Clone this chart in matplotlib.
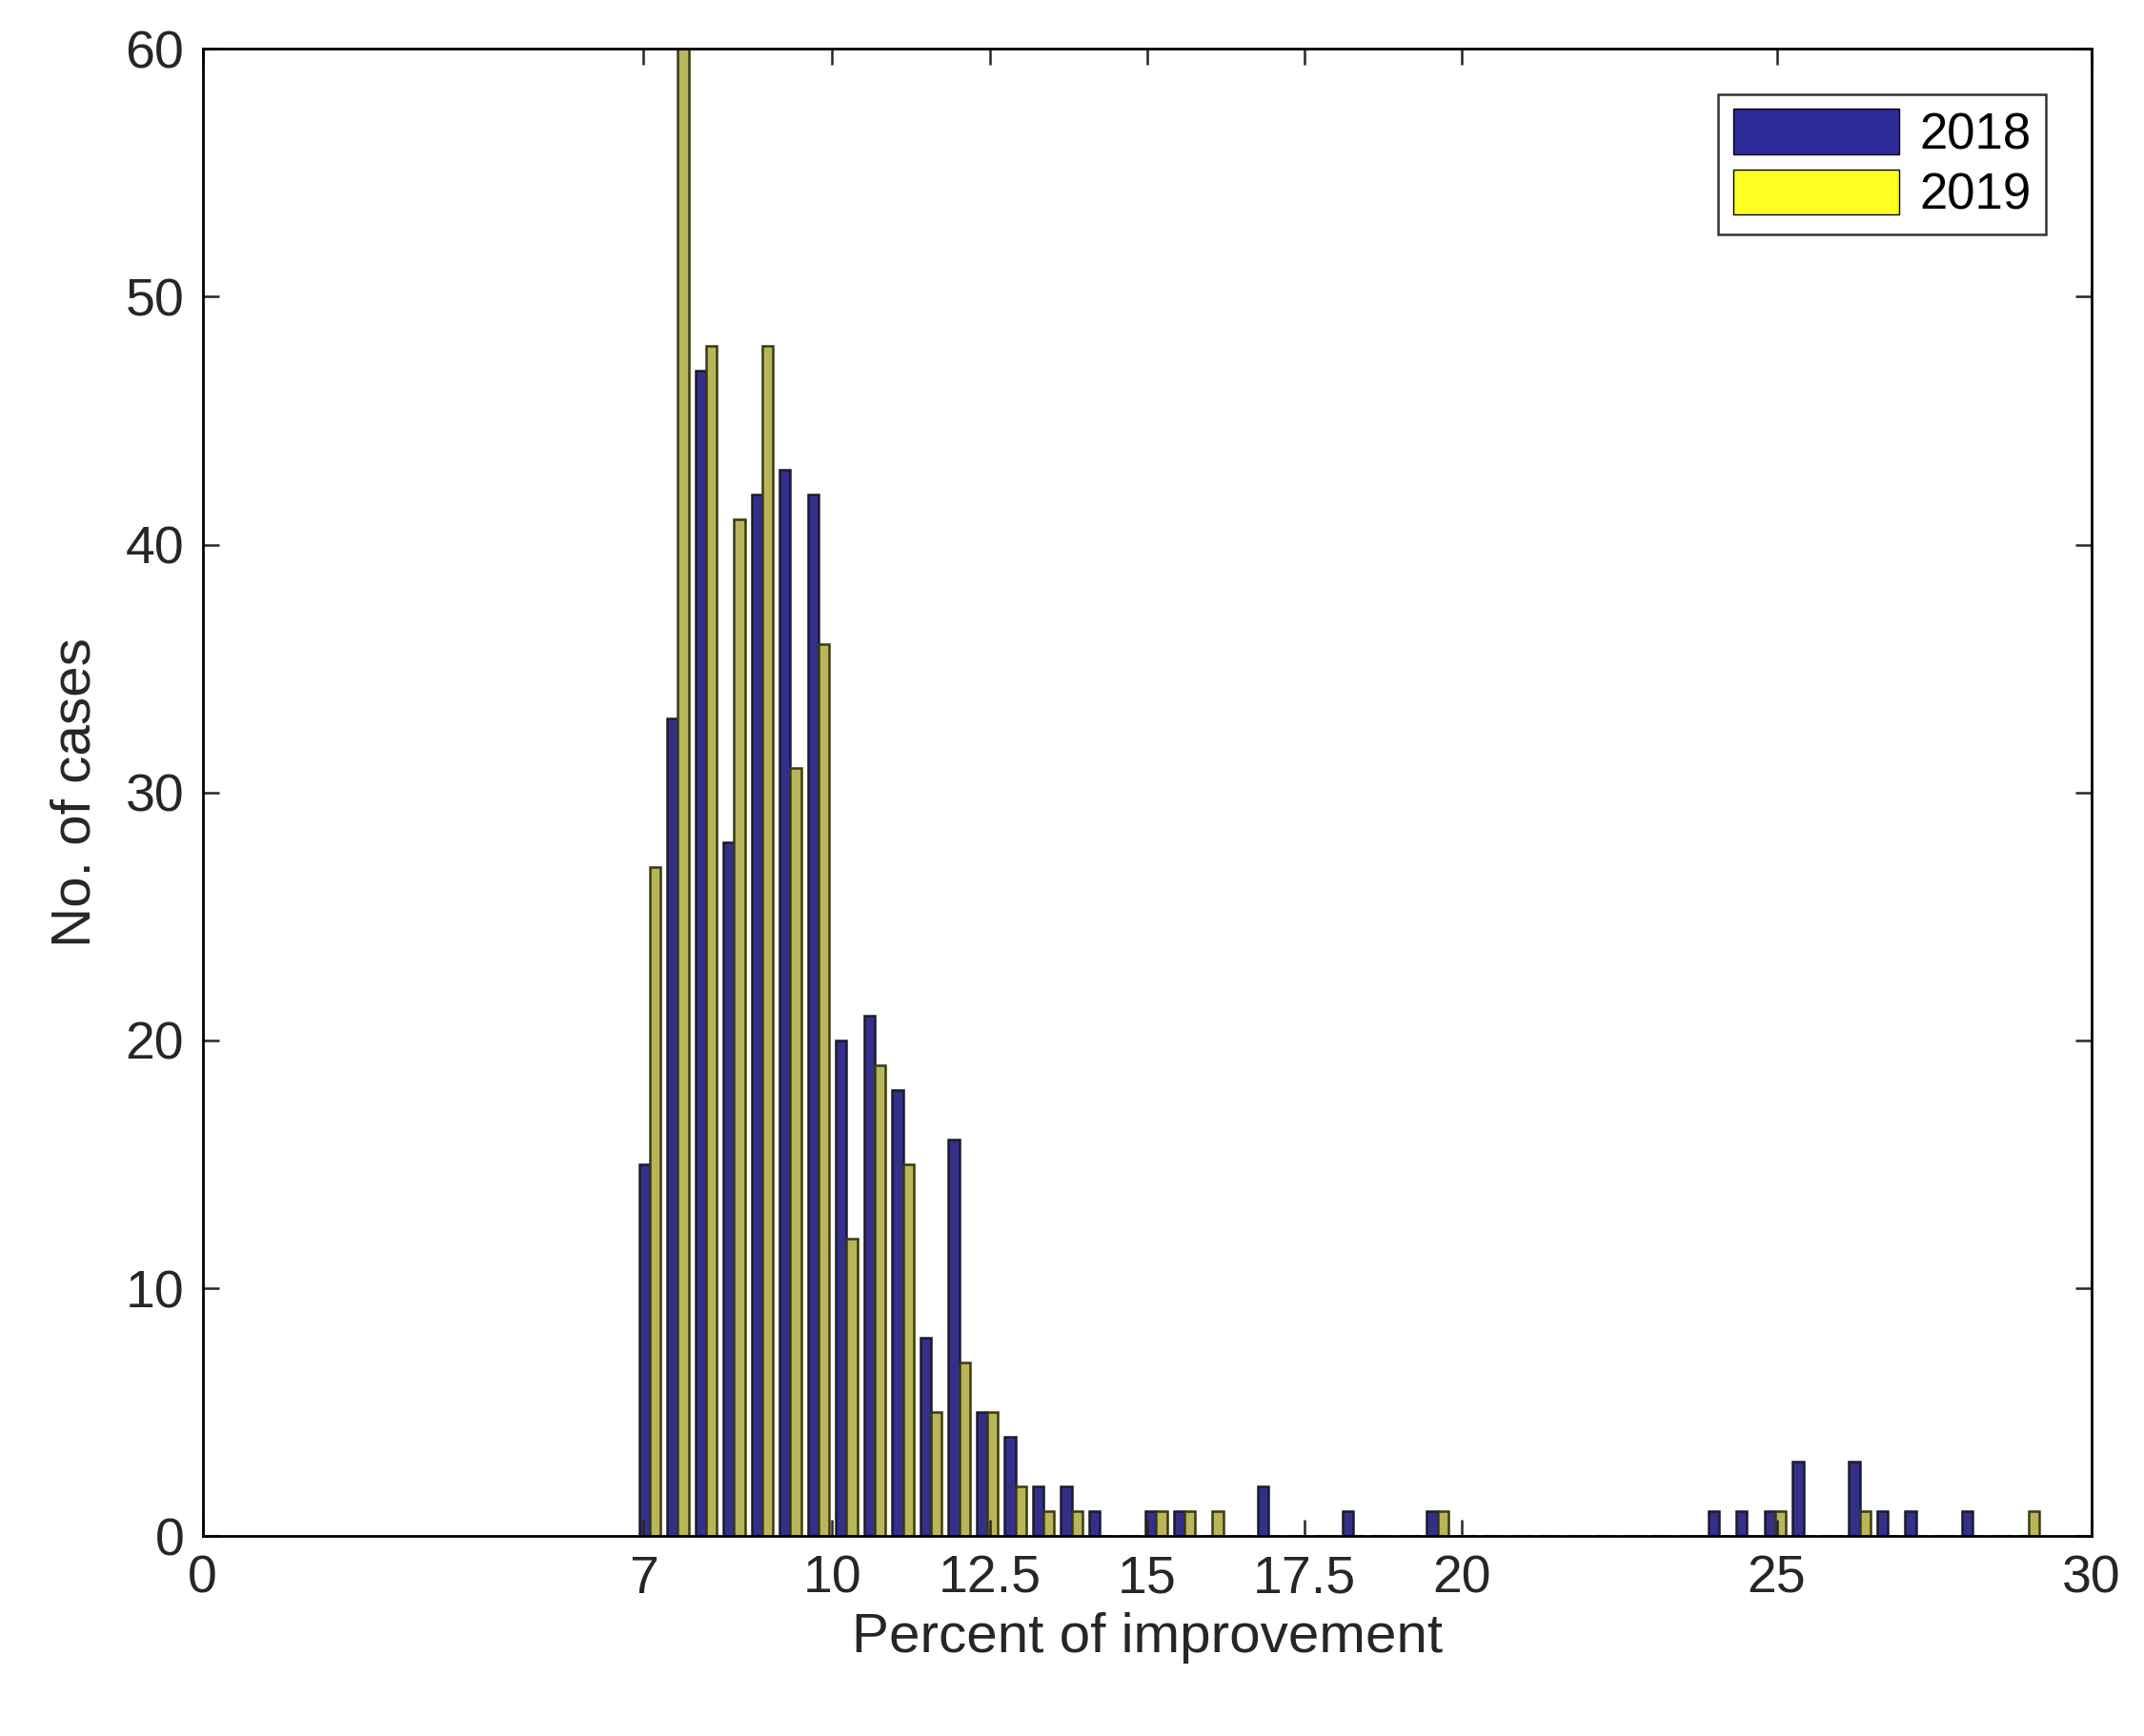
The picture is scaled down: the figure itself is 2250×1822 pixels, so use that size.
import matplotlib.pyplot as plt
from matplotlib.patches import Patch
import numpy as np

plt.rcParams['font.family'] = ['Liberation Sans', 'DejaVu Sans']

# bin centres: 50 bins from 7.1 to 29.0
n_bins = 50
bin_first, bin_last = 7.1, 29.0
counts_2018 = [15, 33, 47, 28, 42, 43, 42, 20, 21, 18, 8, 16, 5, 4, 2, 2, 1, 0, 1, 1,
               0, 0, 2, 0, 0, 1, 0, 0, 1, 0, 0, 0, 0, 0, 0, 0, 0, 0, 1, 1,
               1, 3, 0, 3, 1, 1, 0, 1, 0, 0]
counts_2019 = [27, 60, 48, 41, 48, 31, 36, 12, 19, 15, 5, 7, 5, 2, 1, 1, 0, 0, 1, 1,
               1, 0, 0, 0, 0, 0, 0, 0, 1, 0, 0, 0, 0, 0, 0, 0, 0, 0, 0, 0,
               1, 0, 0, 1, 0, 0, 0, 0, 0, 1]
x_ticks = [0, 7, 10, 12.5, 15, 17.5, 20, 25, 30]
x_tick_labels = ['0', '7', '10', '12.5', '15', '17.5', '20', '25', '30']

centres = np.linspace(bin_first, bin_last, n_bins)
w = 0.17

fig = plt.figure(figsize=(22.5, 18.22), dpi=100)
ax = fig.add_axes([0.0945, 0.115, 0.881, 0.857])

ax.bar(centres - w / 2, counts_2018, width=w, color='#34308a', edgecolor='#1a1a30',
       linewidth=1.8)
ax.bar(centres + w / 2, counts_2019, width=w, color='#b9b55a', edgecolor='#3a3a10',
       linewidth=1.8)

ax.set_xlim(0, 30)
ax.set_ylim(0, 60)
ax.set_xticks(x_ticks)
ax.set_xticklabels(x_tick_labels)
ax.set_yticks(range(0, 61, 10))
ax.tick_params(direction='in', length=12, width=1.8, labelsize=40, top=True, right=True,
               pad=14, colors='#262626')
for s in ax.spines.values():
    s.set_linewidth(2)

ax.set_xlabel('Percent of improvement', fontsize=42, color='#262626', labelpad=6)
ax.set_ylabel('No. of cases', fontsize=42, color='#262626', labelpad=18)

handles = [Patch(facecolor='#2e2a9a', edgecolor='black', label='2018'),
           Patch(facecolor='#ffff22', edgecolor='black', label='2019')]
leg = ax.legend(handles=handles, loc='upper right', fontsize=38, fancybox=False,
                edgecolor='black', handlelength=3.3, handleheight=1.0,
                borderaxespad=0.9, labelspacing=0.2, borderpad=0.3, handletextpad=0.4)
leg.get_frame().set_linewidth(1.8)

fig.savefig('out.png', dpi=100)
